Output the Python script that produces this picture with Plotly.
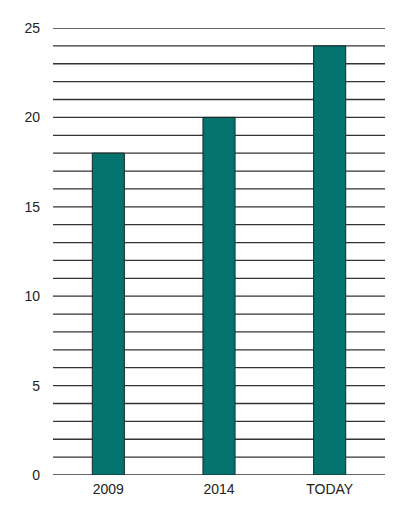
import plotly.graph_objects as go

categories = ["2009", "2014", "TODAY"]
values = [18, 20, 24]

fig = go.Figure()
fig.add_trace(go.Bar(
    x=categories, y=values, width=0.29,
    marker=dict(color="#037370", line=dict(color="#1a2a2a", width=1))
))
fig.update_layout(
    width=400, height=513,
    margin=dict(l=45, r=23, t=14, b=46),
    plot_bgcolor="white", paper_bgcolor="white",
    font=dict(family="Liberation Sans, Arial", size=14, color="#222"),
    showlegend=False,
    yaxis=dict(range=[0, 25], tickvals=[0, 5, 10, 15, 20, 25], showgrid=False,
               ticks="", zeroline=False, ticklabelstandoff=12),
    xaxis=dict(showgrid=False, ticks="", ticklabelstandoff=4),
)
for v in range(0, 26):
    fig.add_hline(y=v, line=dict(color="#333", width=1.3), layer="below")
fig.write_html("out.html")
